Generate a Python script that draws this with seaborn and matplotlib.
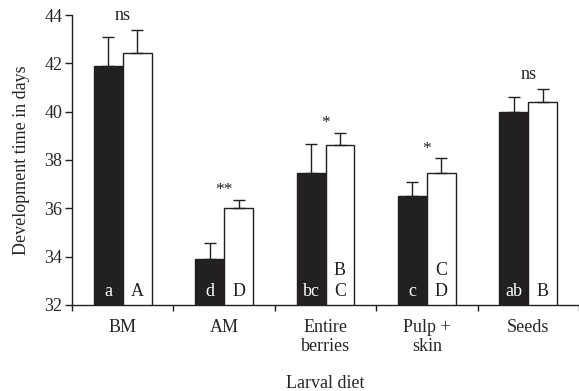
import matplotlib
matplotlib.use("Agg")
import matplotlib.pyplot as plt
import seaborn as sns
import pandas as pd
import numpy as np

diets = ["BM", "AM", "Entire\nberries", "Pulp +\nskin", "Seeds"]
groups = ["g1", "g2"]
mean_black = [41.88, 33.9, 37.48, 36.53, 40.0]
mean_white = [42.43, 36.0, 38.63, 37.47, 40.42]
err_black = [1.2, 0.65, 1.17, 0.58, 0.6]
err_white = [0.95, 0.35, 0.5, 0.6, 0.5]
letters_black = ["a", "d", "bc", "c", "ab"]
letters_white = ["A", "D", "B\nC", "C\nD", "B"]
signif = ["ns", "**", "*", "*", "ns"]

sns.set_theme(style="ticks")
plt.rcParams["font.family"] = ["Liberation Serif", "DejaVu Serif"]

df = pd.DataFrame({
    "diet": diets * 2,
    "group": [groups[0]] * 5 + [groups[1]] * 5,
    "mean": mean_black + mean_white,
})

fig = plt.figure(figsize=(5.79, 3.91), dpi=100)
ax = fig.add_axes([0.1244, 0.22, 0.8756, 0.7416])

sns.barplot(data=df, x="diet", y="mean", hue="group", order=diets,
            hue_order=groups, palette=["#231f20", "white"], width=0.57,
            edgecolor="#231f20", linewidth=1.0, ax=ax, legend=False,
            errorbar=None)

ax.set_ylim(32, 44)
ax.set_xlim(-0.5, 4.5)

black_p = sorted(ax.containers[0].patches, key=lambda p: p.get_x())
white_p = sorted(ax.containers[1].patches, key=lambda p: p.get_x())

for plist, means, errs in [(black_p, mean_black, err_black), (white_p, mean_white, err_white)]:
    xs = [p.get_x() + p.get_width() / 2 for p in plist]
    ax.errorbar(xs, means, yerr=[np.zeros(len(errs)), errs], fmt="none",
                ecolor="#231f20", elinewidth=1.0, capsize=4.3, capthick=1.0, zorder=1)

fs = 13
for i in range(5):
    pb, pw = black_p[i], white_p[i]
    xb = pb.get_x() + pb.get_width() / 2
    xw = pw.get_x() + pw.get_width() / 2
    ax.text(xb, 32.55, letters_black[i], color="white", ha="center", va="center", fontsize=fs)
    lines = letters_white[i].split("\n")
    if len(lines) == 1:
        ax.text(xw, 32.55, lines[0], color="#231f20", ha="center", va="center", fontsize=fs)
    else:
        ax.text(xw, 32.55, lines[1], color="#231f20", ha="center", va="center", fontsize=fs)
        ax.text(xw, 33.42, lines[0], color="#231f20", ha="center", va="center", fontsize=fs)
    top = max(mean_black[i] + err_black[i], mean_white[i] + err_white[i])
    xc = (pb.get_x() + pw.get_x() + pw.get_width()) / 2
    off = 10.5 if signif[i] == "ns" else 7
    ax.annotate(signif[i], (xc, top), xytext=(0, off), textcoords="offset points",
                ha="center", va="center",
                fontsize=fs if signif[i] == "ns" else 12.5, color="#231f20",
                annotation_clip=False)

ax.set_yticks(np.arange(32, 45, 2))
ax.set_xticks(np.arange(-0.5, 5, 1))
ax.set_xticklabels([])
ax.set_xticks(np.arange(5), minor=True)
ax.set_xticklabels(diets, minor=True)
ax.tick_params(axis="x", which="minor", length=0, pad=10, labelsize=fs)
ax.tick_params(axis="x", which="major", length=4, width=1.0, direction="out", color="#231f20")
ax.tick_params(axis="y", length=5, width=1.0, direction="out", labelsize=fs, color="#231f20", pad=2)

for s in ["top", "right"]:
    ax.spines[s].set_visible(False)
for s in ["left", "bottom"]:
    ax.spines[s].set_linewidth(1.0)
    ax.spines[s].set_color("#231f20")

ax.set_xlabel("Larval diet", fontsize=fs, labelpad=14)
ax.set_ylabel("Development time in days", fontsize=fs, labelpad=10)

fig.savefig("out.png", dpi=100)
